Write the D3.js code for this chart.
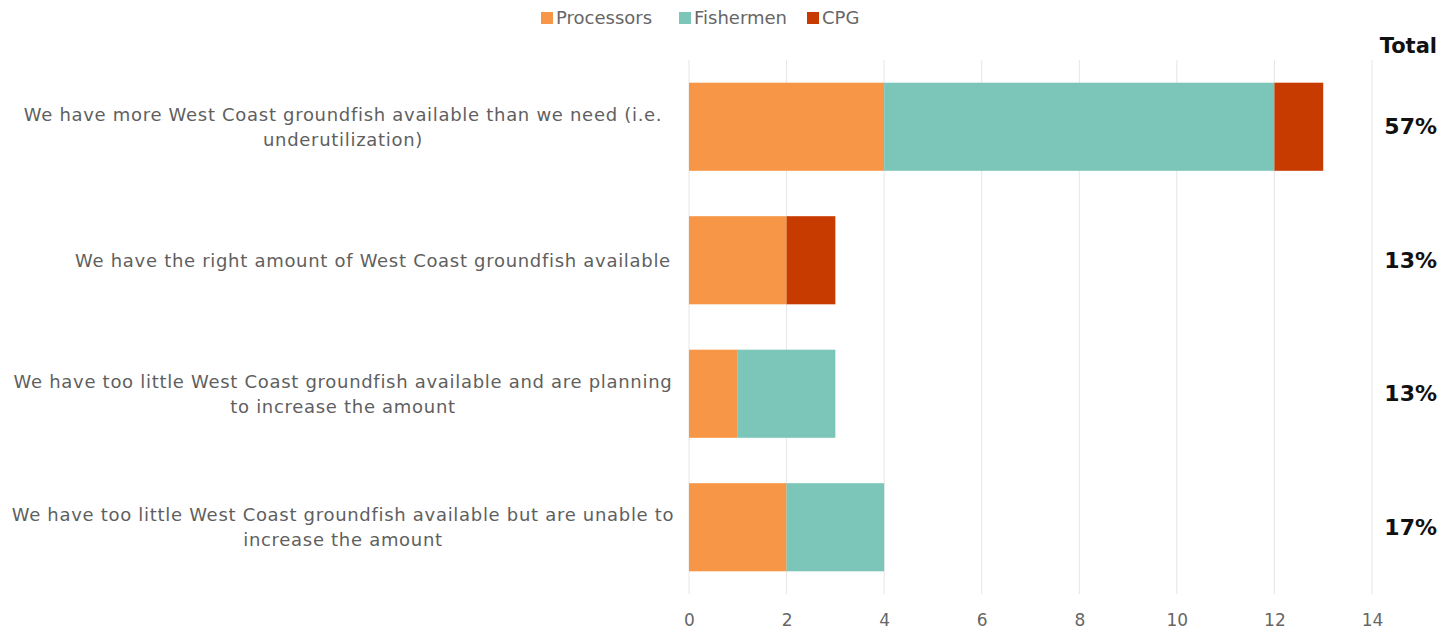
<!DOCTYPE html>
<html>
<head>
<meta charset="utf-8">
<script src="https://cdn.jsdelivr.net/npm/d3@7"></script>
<style>
  html, body { margin: 0; padding: 0; background: #fff; }
  svg { display: block; }
</style>
</head>
<body>
<svg id="chart" width="1455" height="631"></svg>
<script>
// Survey responses on West Coast groundfish availability, by respondent group
const categories = [
  ["We have more West Coast groundfish available than we need (i.e.", "underutilization)"],
  ["We have the right amount of West Coast groundfish available"],
  ["We have too little West Coast groundfish available and are planning", "to increase the amount"],
  ["We have too little West Coast groundfish available but are unable to", "increase the amount"]
];
const seriesNames = ["Processors", "Fishermen", "CPG"];
const processors = [4, 2, 1, 2];
const fishermen  = [8, 0, 2, 2];
const cpg        = [1, 1, 0, 0];
const xTicks = [0, 2, 4, 6, 8, 10, 12, 14];
const colors = ["#f79646", "#7bc6b9", "#c73a00"];

const font = "'DejaVu Sans', sans-serif";
const svg = d3.select("#chart");

const rows = categories.map((c, i) => ({
  key: i, label: c,
  Processors: processors[i], Fishermen: fishermen[i], CPG: cpg[i]
}));
const grandTotal = d3.sum(rows, r => r.Processors + r.Fishermen + r.CPG);

const margin = { left: 689, right: 83, top: 60, bottom: 37 };
const W = 1455, H = 631;
const x = d3.scaleLinear().domain([0, 14]).range([margin.left, W - margin.right]);
const y = d3.scaleBand().domain(rows.map(r => r.key))
  .range([margin.top, H - margin.bottom]).paddingInner(0.34).paddingOuter(0.17);

// gridlines
svg.append("g").selectAll("line").data(xTicks).join("line")
  .attr("x1", d => x(d)).attr("x2", d => x(d))
  .attr("y1", margin.top).attr("y2", H - margin.bottom)
  .attr("stroke", "#e6e6e6").attr("stroke-width", 1);

// stacked bars
const stack = d3.stack().keys(seriesNames)(rows);
svg.append("g").selectAll("g").data(stack).join("g")
  .attr("fill", (d, i) => colors[i])
  .selectAll("rect").data(d => d).join("rect")
  .attr("x", d => x(d[0]))
  .attr("width", d => x(d[1]) - x(d[0]))
  .attr("y", d => y(d.data.key))
  .attr("height", y.bandwidth());

// x axis labels
const xAxis = d3.axisBottom(x).tickValues(xTicks).tickSize(0).tickPadding(0);
const gx = svg.append("g").attr("transform", `translate(0,${H - 11})`).call(xAxis);
gx.select(".domain").remove();
gx.selectAll("text").attr("font-family", font).attr("font-size", 17)
  .attr("fill", "#666").attr("dy", "0.35em").attr("y", 0);

// category labels: wrapped ones centred, single-line ones sit nearer the bars
const lab = svg.append("g").selectAll("text").data(rows).join("text")
  .attr("font-family", font).attr("font-size", 18).attr("letter-spacing", 0.7)
  .attr("fill", "#5f5f5f")
  .attr("text-anchor", "middle")
  .attr("transform", r => `translate(${r.label.length > 1 ? 343 : 373},${y(r.key) + y.bandwidth() / 2})`);
lab.each(function(r) {
  const n = r.label.length;
  d3.select(this).selectAll("tspan").data(r.label).join("tspan")
    .attr("x", 0)
    .attr("y", (d, i) => (i - (n - 1) / 2) * 25)
    .attr("dy", "0.35em")
    .text(d => d);
});

// totals column
svg.append("text").attr("x", 1437).attr("y", 46)
  .attr("text-anchor", "end").attr("dy", "0.35em")
  .attr("font-family", font).attr("font-weight", "bold").attr("font-size", 21)
  .attr("fill", "#111").text("Total");
svg.append("g").selectAll("text").data(rows).join("text")
  .attr("x", 1437).attr("y", r => y(r.key) + y.bandwidth() / 2)
  .attr("text-anchor", "end").attr("dy", "0.35em")
  .attr("font-family", font).attr("font-weight", "bold").attr("font-size", 22)
  .attr("fill", "#111")
  .text(r => Math.round((r.Processors + r.Fishermen + r.CPG) / grandTotal * 100) + "%");

// legend
const legendX = [541, 679, 807];
const lg = svg.append("g").selectAll("g").data(seriesNames).join("g")
  .attr("transform", (d, i) => `translate(${legendX[i]},18)`);
lg.append("rect").attr("x", 0).attr("y", -6).attr("width", 12).attr("height", 12)
  .attr("fill", (d, i) => colors[i]);
lg.append("text").attr("x", 15).attr("y", 0).attr("dy", "0.35em")
  .attr("font-family", font).attr("font-size", 18).attr("fill", "#666")
  .text(d => d);
</script>
</body>
</html>
